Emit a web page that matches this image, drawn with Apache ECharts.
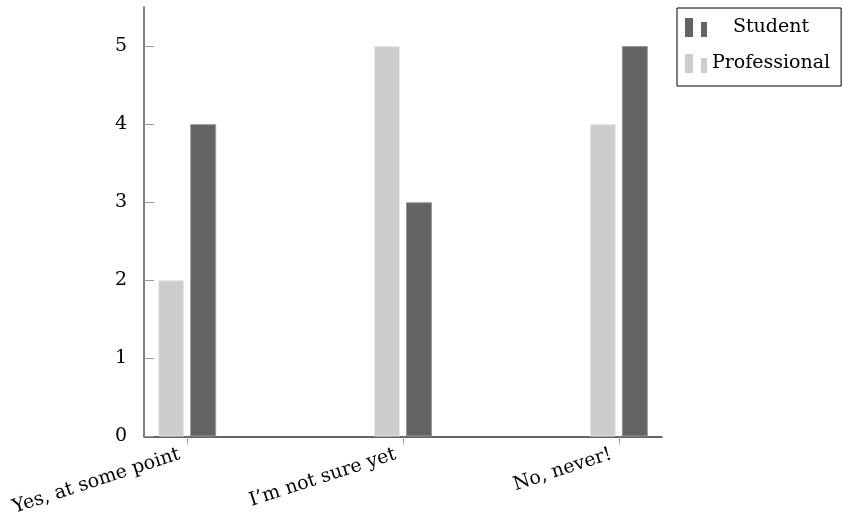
<!DOCTYPE html>
<html>
<head>
<meta charset="utf-8">
<script src="https://cdn.jsdelivr.net/npm/echarts@6/dist/echarts.min.js"></script>
<style>html,body{margin:0;padding:0;background:#fff}#c{width:843px;height:518px}</style>
</head>
<body>
<div id="c"></div>
<script>
const categories = ["Yes, at some point", "I\u2019m not sure yet", "No, never!"];
const professional = [2, 5, 4];
const student = [4, 3, 5];
const yTicks = [0, 1, 2, 3, 4, 5];

const FONT = "DejaVu Serif";
const FS = 19;
const chart = echarts.init(document.getElementById('c'), null, {renderer: 'canvas'});
const catIdx = categories.map((_, i) => i);
const legendIcon = 'path://M0,0H8V19H0Z M16,4H22V19H16Z';

chart.setOption({
  animation: false,
  grid: {left: 144, right: 181, top: 7, bottom: 81, containLabel: false},
  legend: {
    data: [
      {name: 'Student', icon: legendIcon},
      {name: 'Professional', icon: legendIcon}
    ],
    orient: 'vertical',
    left: 677, top: 8,
    padding: [10, 11, 13, 8],
    itemWidth: 22, itemHeight: 19, itemGap: 17,
    borderColor: '#000', borderWidth: 1,
    selectedMode: false,
    itemStyle: {borderWidth: 0},
    formatter: n => '{c|' + n + '}',
    textStyle: {
      fontFamily: FONT, fontSize: FS, color: '#000',
      rich: {c: {fontFamily: FONT, fontSize: FS, width: 118, align: 'center', color: '#000'}}
    }
  },
  xAxis: {
    type: 'value', min: -0.2, max: 2.2,
    splitLine: {show: false},
    axisLine: {show: true, onZero: false, lineStyle: {color: '#333', width: 1.5}},
    axisTick: {show: true, customValues: catIdx, inside: false, length: 8, lineStyle: {color: '#999', width: 1}},
    axisLabel: {
      customValues: catIdx, rotate: 18, margin: 15, padding: [0, 8, 0, 0],
      fontFamily: FONT, fontSize: FS, color: '#000',
      formatter: v => categories[Math.round(v)]
    }
  },
  yAxis: {
    type: 'value', min: 0, max: 5.5,
    splitLine: {show: false},
    axisLine: {show: true, onZero: false, lineStyle: {color: '#555', width: 1.5}},
    axisTick: {show: true, customValues: yTicks, inside: true, length: 10, lineStyle: {color: '#999', width: 1}},
    axisLabel: {customValues: yTicks, fontFamily: FONT, fontSize: FS, color: '#000', margin: 17}
  },
  series: [
    {
      name: 'Professional', type: 'bar',
      data: professional.map((v, i) => [i, v]),
      barWidth: 26, barGap: '23%',
      itemStyle: {color: '#cccccc', borderColor: '#e8e8e8', borderWidth: 1}
    },
    {
      name: 'Student', type: 'bar',
      data: student.map((v, i) => [i, v]),
      barWidth: 26, barGap: '23%',
      itemStyle: {color: '#636363', borderColor: '#999', borderWidth: 1}
    }
  ]
});
</script>
</body>
</html>
